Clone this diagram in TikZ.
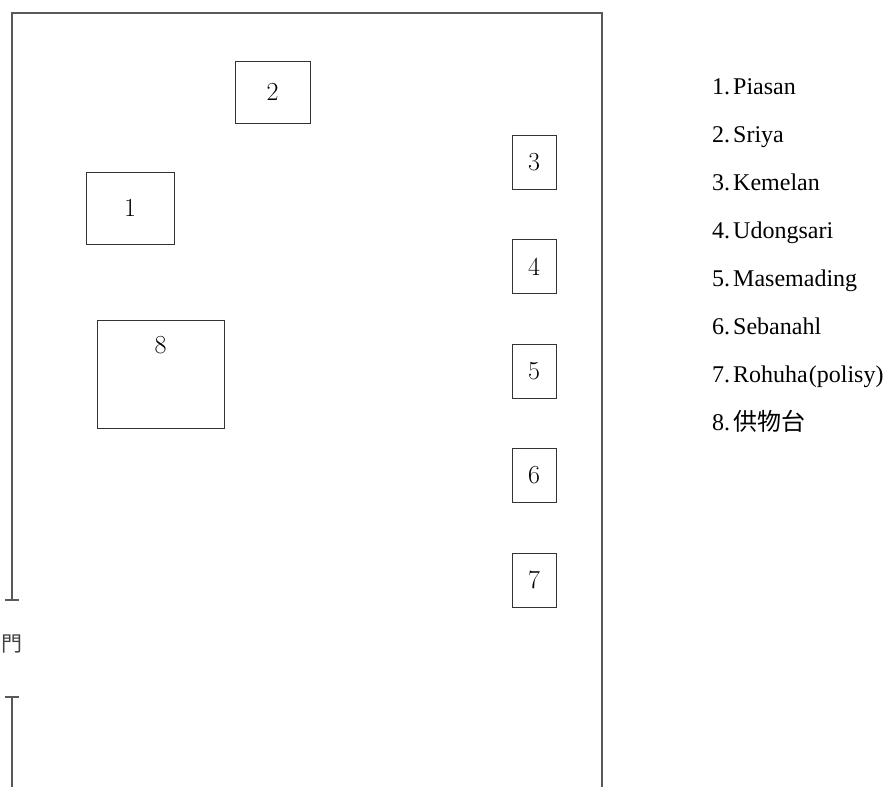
\documentclass[tikz,border=0pt]{standalone}
\usepackage{fontspec}
\setmainfont{Latin Modern Roman}
\newfontfamily\legendfont{Liberation Serif}
\newfontfamily\cjk{Noto Sans CJK JP}
\usepackage{xcolor}
\usepackage{tikz}
\usetikzlibrary{positioning}

\begin{document}
\begin{tikzpicture}[
  x=1pt, y=-1pt,
  line cap=butt,
  line join=miter,
  wall/.style={draw=black!65, line width=1.3pt},
  spot/.style={draw=black!80, line width=0.9pt, inner sep=0pt,
    font=\fontsize{26}{30}\selectfont},
  legend/.style={anchor=base west, inner sep=0pt,
    font=\legendfont\fontsize{24}{28}\selectfont}
]
  \useasboundingbox (0,0) rectangle (889,787);

  % The walls
  \coordinate (w1) at ( 12,787);
  \coordinate (w2) at ( 12, 13);
  \coordinate (w3) at (602, 13);
  \coordinate (w4) at (602,787);
  \coordinate (g1) at ( 12,600);
  \coordinate (g2) at ( 12,697);

  \draw[wall] (g1) -- (w2) -- (w3) -- (w4);
  \draw[wall] (g2) -- (w1);
  \draw[wall] ([xshift=-7]g1) -- ([xshift=7]g1);
  \draw[wall] ([xshift=-7]g2) -- ([xshift=7]g2);
  \node[font=\cjk\fontsize{21}{25}\selectfont, text=black!75] (gate) at (12,644) {門};

  % The shrines
  \node[spot, minimum width=88, minimum height=72] (b1) at (130,208)   {1};
  \node[spot, minimum width=75, minimum height=62] (b2) at (272.5,92)  {2};
  \foreach \i/\y in {3/162, 4/266.5, 5/371, 6/475, 7/580}{
    \node[spot, minimum width=44, minimum height=54] (b\i) at (534,\y) {\i};
  }
  \node[spot, minimum width=127, minimum height=108] (b8) at (160.5,374) {};
  \node[font=\fontsize{26}{30}\selectfont, inner sep=0pt] (n8) at (160.5,345) {8};

  % The legend
  \foreach \i/\name in {1/Piasan, 2/Sriya, 3/Kemelan, 4/Udongsari,
      5/Masemading, 6/Sebanahl, 7/Rohuha\kern1pt(polisy), 8/{\cjk 供物台}}{
    \node[legend] (l\i) at (712,46+48*\i) {\i.\kern3pt\name};
  }
\end{tikzpicture}
\end{document}
